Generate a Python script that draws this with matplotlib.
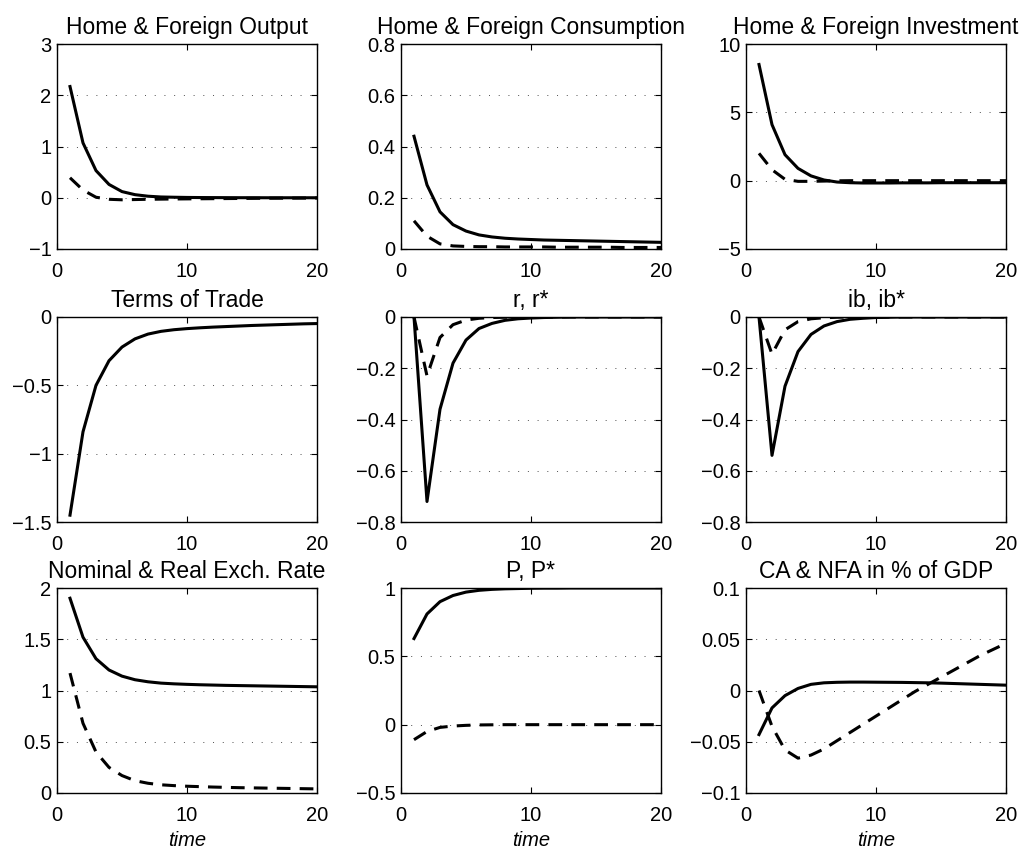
import numpy as np
import matplotlib
matplotlib.use("Agg")
import matplotlib.pyplot as plt
from matplotlib.ticker import FuncFormatter

plt.rcParams['font.family'] = ['Liberation Sans', 'DejaVu Sans']

t = list(range(1, 21))

# ---- row 1
output_home = [2.17, 1.07, 0.53, 0.26, 0.12, 0.06, 0.03, 0.015, 0.01, 0.006,
               0.004, 0.003, 0.002, 0.001, 0.001, 0.0, 0.0, 0.0, 0.0, 0.0]
output_for = [0.39, 0.15, 0.01, -0.03, -0.04, -0.035, -0.03, -0.027, -0.024, -0.022,
              -0.02, -0.018, -0.016, -0.014, -0.012, -0.01, -0.009, -0.008, -0.007, -0.006]

cons_home = [0.44, 0.25, 0.145, 0.095, 0.07, 0.055, 0.047, 0.042, 0.039, 0.037,
             0.035, 0.034, 0.033, 0.032, 0.031, 0.03, 0.029, 0.028, 0.027, 0.026]
cons_for = [0.11, 0.05, 0.02, 0.012, 0.01, 0.009, 0.009, 0.008, 0.008, 0.008,
            0.008, 0.007, 0.007, 0.007, 0.007, 0.007, 0.006, 0.006, 0.006, 0.006]

inv_home = [8.5, 4.1, 1.9, 0.9, 0.35, 0.05, -0.1, -0.15, -0.17, -0.17,
            -0.17, -0.16, -0.16, -0.16, -0.15, -0.15, -0.15, -0.15, -0.15, -0.15]
inv_for = [2.0, 0.8, 0.1, -0.05, -0.05, -0.03, -0.01, 0.0, 0.0, 0.0,
           0.0, 0.0, 0.0, 0.0, 0.0, 0.0, 0.0, 0.0, 0.0, 0.0]

# ---- row 2
tot = [-1.45, -0.84, -0.5, -0.32, -0.22, -0.16, -0.125, -0.105, -0.093, -0.085,
       -0.079, -0.074, -0.07, -0.066, -0.062, -0.059, -0.056, -0.053, -0.05, -0.048]

r_home = [0.0, -0.72, -0.36, -0.18, -0.09, -0.045, -0.025, -0.013, -0.007, -0.004,
          -0.002, -0.001, 0.0, 0.0, 0.0, 0.0, 0.0, 0.0, 0.0, 0.0]
r_for = [0.0, -0.23, -0.08, -0.03, -0.012, -0.005, -0.002, -0.001, 0.0, 0.0,
         0.0, 0.0, 0.0, 0.0, 0.0, 0.0, 0.0, 0.0, 0.0, 0.0]

ib_home = [0.0, -0.54, -0.27, -0.135, -0.068, -0.035, -0.018, -0.009, -0.005, -0.002,
           -0.001, 0.0, 0.0, 0.0, 0.0, 0.0, 0.0, 0.0, 0.0, 0.0]
ib_for = [0.0, -0.145, -0.05, -0.018, -0.007, -0.003, -0.001, 0.0, 0.0, 0.0,
          0.0, 0.0, 0.0, 0.0, 0.0, 0.0, 0.0, 0.0, 0.0, 0.0]

# ---- row 3
exch_nom = [1.9, 1.52, 1.31, 1.2, 1.14, 1.105, 1.085, 1.072, 1.065, 1.06,
            1.056, 1.053, 1.05, 1.048, 1.046, 1.044, 1.042, 1.04, 1.038, 1.036]
exch_real = [1.17, 0.68, 0.4, 0.25, 0.17, 0.12, 0.095, 0.08, 0.072, 0.066,
             0.062, 0.058, 0.055, 0.052, 0.05, 0.048, 0.046, 0.044, 0.042, 0.04]

p_home = [0.63, 0.81, 0.9, 0.945, 0.97, 0.983, 0.99, 0.994, 0.996, 0.998,
          0.999, 0.999, 1.0, 1.0, 1.0, 1.0, 1.0, 1.0, 1.0, 1.0]
p_for = [-0.11, -0.05, -0.02, -0.01, -0.005, -0.002, -0.001, 0.0, 0.0, 0.0,
         0.0, 0.0, 0.0, 0.0, 0.0, 0.0, 0.0, 0.0, 0.0, 0.0]

ca = [-0.043, -0.017, -0.005, 0.002, 0.006, 0.0075, 0.008, 0.0082, 0.0082, 0.0081,
      0.008, 0.0079, 0.0077, 0.0075, 0.0072, 0.0068, 0.0064, 0.006, 0.0056, 0.0052]
nfa = [0.0, -0.035, -0.058, -0.066, -0.063, -0.057, -0.049, -0.041, -0.033, -0.025,
       -0.017, -0.009, -0.001, 0.006, 0.013, 0.02, 0.027, 0.034, 0.04, 0.046]

titles = ["Home & Foreign Output", "Home & Foreign Consumption", "Home & Foreign Investment",
          "Terms of Trade", "r, r*", "ib, ib*",
          "Nominal & Real Exch. Rate", "P, P*", "CA & NFA in % of GDP"]
solid = [output_home, cons_home, inv_home, tot, r_home, ib_home, exch_nom, p_home, ca]
dashed = [output_for, cons_for, inv_for, None, r_for, ib_for, exch_real, p_for, nfa]
ylims = [(-1, 3), (0, 0.8), (-5, 10), (-1.5, 0), (-0.8, 0), (-0.8, 0), (0, 2), (-0.5, 1), (-0.1, 0.1)]
yticks = [[-1, 0, 1, 2, 3], [0, 0.2, 0.4, 0.6, 0.8], [-5, 0, 5, 10], [-1.5, -1, -0.5, 0],
          [-0.8, -0.6, -0.4, -0.2, 0], [-0.8, -0.6, -0.4, -0.2, 0], [0, 0.5, 1, 1.5, 2],
          [-0.5, 0, 0.5, 1], [-0.1, -0.05, 0, 0.05, 0.1]]

W, H = 1028, 852
fig = plt.figure(figsize=(W / 100, H / 100), dpi=100)

col_left = [57, 401, 746]
row_top = [44, 317, 588]
ax_w, ax_h = 260, 205

fmt = FuncFormatter(lambda v, p: ("%g" % v).replace("-", "\u2212"))

for k in range(9):
    row, col = k // 3, k % 3
    ax = fig.add_axes([col_left[col] / W, 1 - (row_top[row] + ax_h) / H, ax_w / W, ax_h / H])
    ax.plot(t, solid[k], color='black', lw=2.2, solid_joinstyle='round')
    if dashed[k] is not None:
        ax.plot(t, dashed[k], color='black', lw=2.2, linestyle=(0, (4.5, 3.0)))
    ax.set_xlim(0, 20)
    ax.set_ylim(*ylims[k])
    ax.set_xticks([0, 10, 20])
    ax.set_yticks(yticks[k])
    ax.yaxis.set_major_formatter(fmt)
    for yv in yticks[k][1:-1]:
        ax.axhline(yv, color='0.3', lw=0.7, linestyle=(0, (1, 9)), zorder=0)
    ax.tick_params(direction='in', top=True, right=True, length=4, width=0.8, labelsize=14.5)
    ax.tick_params(axis='x', pad=9.5)
    ax.tick_params(axis='y', pad=4)
    for s in ax.spines.values():
        s.set_linewidth(1.0)
    ax.set_title(titles[k], fontsize=16.5, pad=7)
    if row == 2:
        ax.set_xlabel("time", fontsize=14.5, style='italic', labelpad=4)

fig.savefig("out.png", dpi=100)
